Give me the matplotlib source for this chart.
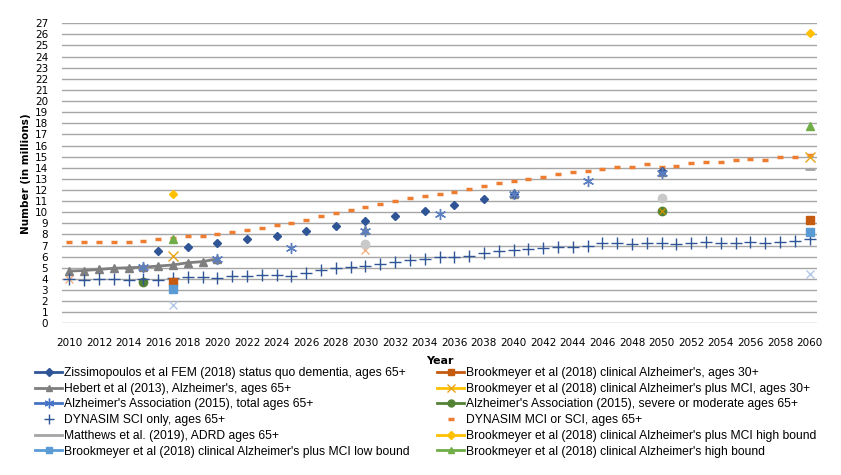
import matplotlib
matplotlib.use("Agg")
import matplotlib.pyplot as plt
from matplotlib.lines import Line2D
import numpy as np

# ---- data ----
years_annual = list(range(2010, 2061))

dynasim_sci = [3.95, 3.9, 3.95, 3.95, 3.9, 3.95, 3.9, 4.05, 4.15, 4.2, 4.05,
               4.25, 4.25, 4.35, 4.35, 4.3, 4.55, 4.8, 4.95, 5.1, 5.2,
               5.35, 5.5, 5.7, 5.8, 5.95, 5.95, 6.1, 6.3, 6.5, 6.6,
               6.65, 6.75, 6.9, 6.9, 6.95, 7.2, 7.25, 7.15, 7.25, 7.2,
               7.15, 7.25, 7.35, 7.25, 7.25, 7.35, 7.25, 7.35, 7.45, 7.6]

dynasim_mci = [7.3, 7.35, 7.35, 7.35, 7.35, 7.45, 7.55, 7.7, 7.85, 7.9, 8.0,
               8.25, 8.4, 8.6, 8.85, 9.05, 9.3, 9.7, 9.95, 10.2, 10.5,
               10.75, 11.05, 11.3, 11.5, 11.65, 11.85, 12.1, 12.4, 12.65, 12.85,
               12.95, 13.2, 13.4, 13.65, 13.75, 13.9, 14.1, 14.1, 14.3, 14.1,
               14.2, 14.45, 14.55, 14.55, 14.7, 14.8, 14.7, 14.95, 15.0, 15.15]

ziss_years = [2016, 2018, 2020, 2022, 2024, 2026, 2028, 2030, 2032, 2034, 2036, 2038, 2040, 2050]
ziss_vals = [6.5, 6.85, 7.2, 7.55, 7.9, 8.3, 8.75, 9.2, 9.65, 10.1, 10.65, 11.2, 11.6, 13.7]

hebert_years = list(range(2010, 2021)) + [2030, 2040, 2050]
hebert_vals = [4.7, 4.75, 4.85, 4.95, 5.0, 5.05, 5.15, 5.25, 5.45, 5.55, 5.8, 8.4, 11.6, 13.6]

aa_total_years = [2015, 2020, 2025, 2030, 2035, 2040, 2045, 2050]
aa_total_vals = [5.1, 5.8, 6.8, 8.3, 9.8, 11.6, 12.8, 13.5]

aa_severe_years = [2015, 2050]
aa_severe_vals = [3.7, 10.1]

matthews_years = [2014, 2060]
matthews_vals = [5.0, 13.9]

brook_years = [2017, 2060]
brook_ad30 = [3.7, 9.3]
brook_mci30 = [6.1, 15.0]
brook_mci_low = [3.1, 8.2]
brook_mci_high = [11.65, 26.1]
brook_ad_high = [7.55, 17.8]
brook_ad_low = [1.65, 4.45]

# extra points without legend entries
extra_circle_years = [2030, 2050]
extra_circle_vals = [7.1, 11.25]
extra_x_years = [2010, 2030]
extra_x_vals = [4.0, 6.6]
extra_olive_years = [2050]
extra_olive_vals = [10.15]

y_ticks = list(range(0, 28))
x_ticks = list(range(2010, 2061, 2))

# ---- figure ----
fig = plt.figure(figsize=(8.41, 4.75), dpi=100)
ax = fig.add_axes([0.0737, 0.3194, 0.8978, 0.6316])

def gaps(years, vals):
    # Excel leaves gaps between non-consecutive years
    xs, ys = [], []
    for i, (x, y) in enumerate(zip(years, vals)):
        if i > 0 and x - years[i - 1] > 1:
            xs.append(np.nan)
            ys.append(np.nan)
        xs.append(x)
        ys.append(y)
    return xs, ys

ax.plot(matthews_years, matthews_vals, linestyle='None', marker='_', color='#A5A5A5',
        markersize=7, markeredgewidth=2, zorder=2)
ax.plot(*gaps(hebert_years, hebert_vals), color='#7F7F7F', linewidth=2,
        marker='^', markersize=6, zorder=3)
ax.plot(extra_x_years, extra_x_vals, linestyle='None', marker='x', color='#F4B183',
        markersize=6, markeredgewidth=1, zorder=2)
ax.plot(brook_years, brook_ad_low, linestyle='None', marker='x', color='#B4C7E7',
        markersize=6, markeredgewidth=1, zorder=2)
ax.plot(extra_circle_years, extra_circle_vals, linestyle='None', marker='o', color='#C9C9C9',
        markersize=6, zorder=2)
ax.plot(aa_severe_years, aa_severe_vals, linestyle='None', marker='o', color='#548235',
        markersize=6, zorder=3)
ax.plot(extra_olive_years, extra_olive_vals, linestyle='None', marker='x', color='#BF9000',
        markersize=5, markeredgewidth=1, zorder=4)
ax.plot(years_annual, dynasim_sci, linestyle='None', marker='+', color='#2F5597',
        markersize=8, markeredgewidth=1, zorder=3)
ax.plot(years_annual, dynasim_mci, linestyle='None', marker='_', color='#ED7D31',
        markersize=5, markeredgewidth=2.5, zorder=3)
ax.plot(ziss_years, ziss_vals, linestyle='None', marker='D', color='#2F5597',
        markersize=4.5, zorder=4)
ax.plot(aa_total_years, aa_total_vals, linestyle='None', marker=(6, 2, 0), color='#5B7FC0',
        markersize=8, markeredgewidth=1, zorder=4)
ax.plot(brook_years, brook_ad30, linestyle='None', marker='s', color='#C55A11',
        markersize=5.5, zorder=3)
ax.plot(brook_years, brook_mci_low, linestyle='None', marker='s', color='#5B9BD5',
        markersize=5.5, zorder=3)
ax.plot(brook_years, brook_mci30, linestyle='None', marker='x', color='#E8A317',
        markersize=7, markeredgewidth=1, zorder=3)
ax.plot(brook_years, brook_mci_high, linestyle='None', marker='D', color='#FFC000',
        markersize=4.5, zorder=3)
ax.plot(brook_years, brook_ad_high, linestyle='None', marker='^', color='#70AD47',
        markersize=6, zorder=3)

ax.set_xlim(2009.5, 2060.5)
ax.set_ylim(0, 27)
ax.set_yticks(y_ticks)
ax.set_xticks(x_ticks)
ax.tick_params(length=0, labelsize=7.5, colors='#000000')
ax.tick_params(axis='y', pad=10)
ax.tick_params(axis='x', pad=10.5)
ax.yaxis.grid(True, color='#A6A6A6', linewidth=1)
ax.set_axisbelow(True)
for s in ax.spines.values():
    s.set_visible(False)

ax.set_ylabel('Number (in millions)', fontsize=7.5, fontweight='bold', labelpad=3)
ax.set_xlabel('Year', fontsize=8, fontweight='bold', labelpad=6)

# ---- legend ----
def h(color, marker, ms=6, line=True, mew=1, lcolor=None):
    return Line2D([0], [0], color=lcolor or color, linewidth=2 if line else 0,
                  marker=marker, markersize=ms, markerfacecolor=color,
                  markeredgecolor=color, markeredgewidth=mew)

left_handles = [
    h('#2F5597', 'D', 4),
    h('#7F7F7F', '^', 5),
    h('#4472C4', (6, 2, 0), 7),
    h('#2F5597', '+', 7, line=False),
    h('#A5A5A5', None),
    h('#5B9BD5', 's', 5),
]
left_labels = [
    'Zissimopoulos et al FEM (2018) status quo dementia, ages 65+',
    "Hebert et al (2013), Alzheimer's, ages 65+",
    "Alzheimer's Association (2015), total ages 65+",
    'DYNASIM SCI only, ages 65+',
    'Matthews et al. (2019), ADRD ages 65+',
    "Brookmeyer et al (2018) clinical Alzheimer's plus MCI low bound",
]
right_handles = [
    h('#C55A11', 's', 5),
    h('#E8A317', 'x', 6, lcolor='#FFC000'),
    h('#548235', 'o', 5),
    h('#ED7D31', '_', 4, line=False, mew=2.5),
    h('#FFC000', 'D', 4),
    h('#70AD47', '^', 5),
]
right_labels = [
    "Brookmeyer et al (2018) clinical Alzheimer's, ages 30+",
    "Brookmeyer et al (2018) clinical Alzheimer's plus MCI, ages 30+",
    "Alzheimer's Association (2015), severe or moderate ages 65+",
    'DYNASIM MCI or SCI, ages 65+',
    "Brookmeyer et al (2018) clinical Alzheimer's plus MCI high bound",
    "Brookmeyer et al (2018) clinical Alzheimer's high bound",
]
leg_font = {'family': ['Liberation Sans', 'DejaVu Sans'], 'size': 8.7}
for hs, ls, x0 in [(left_handles, left_labels, 35 / 841), (right_handles, right_labels, 437 / 841)]:
    fig.legend(hs, ls, loc='upper left', bbox_to_anchor=(x0, 0.2274), frameon=False,
               prop=leg_font, handlelength=2.25, handletextpad=0.15, labelspacing=0.31,
               borderpad=0, borderaxespad=0)

fig.savefig('out.png', dpi=100)
